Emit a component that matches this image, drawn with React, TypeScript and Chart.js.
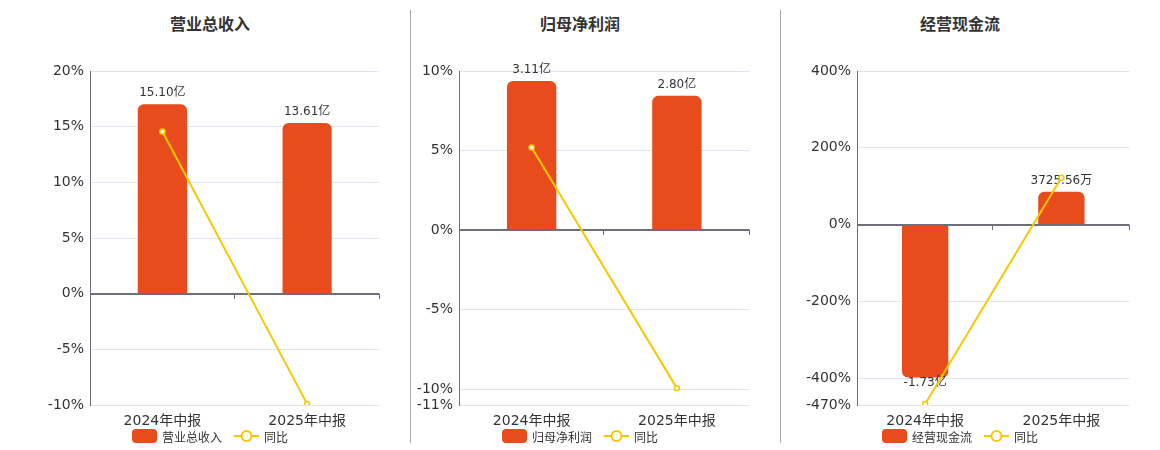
import { useEffect, useRef } from "react"
import { Chart, registerables } from "chart.js"

Chart.register(...registerables)

Chart.defaults.font.family = '"DejaVu Sans", "Noto Sans CJK SC", sans-serif'
Chart.defaults.color = "#333"

// 报告期
const categories = ["2024年中报", "2025年中报"]

// 营业总收入（亿）
const revenueValues = [15.1, 13.61]
const revenueLabels = ["15.10亿", "13.61亿"]
const revenueYoy = [14.57, -9.9]
const revenueTicks = [20, 15, 10, 5, 0, -5, -10]

// 归母净利润（亿）
const profitValues = [3.11, 2.8]
const profitLabels = ["3.11亿", "2.80亿"]
const profitYoy = [5.19, -9.94]
const profitTicks = [10, 5, 0, -5, -10, -11]

// 经营现金流（亿）
const cashValues = [-1.73, 0.372556]
const cashLabels = ["-1.73亿", "3725.56万"]
const cashYoy = [-467.5, 121.8]
const cashTicks = [400, 200, 0, -200, -400, -470]

const BAR_COLOR = "#e84c1d"
const LINE_COLOR = "#f5c800"
const AXIS_COLOR = "#6e7079"

// 零轴 + 分类刻度，画在柱子之后、折线之前
const zeroAxisPlugin = {
  id: "zeroAxis",
  afterDatasetDraw(chart: any, args: any) {
    if (args.meta.type !== "bar") return
    const { ctx, chartArea, scales } = chart
    const y0 = Math.round(scales.y.getPixelForValue(0))
    ctx.save()
    ctx.strokeStyle = AXIS_COLOR
    ctx.lineWidth = 2
    ctx.beginPath()
    ctx.moveTo(chartArea.left, y0)
    ctx.lineTo(chartArea.right, y0)
    ctx.stroke()
    const n = chart.data.labels.length
    const step = (chartArea.right - chartArea.left) / n
    ctx.lineWidth = 1
    for (let i = 1; i <= n; i++) {
      const x = Math.round(chartArea.left + i * step) - 0.5
      ctx.beginPath()
      ctx.moveTo(x, y0)
      ctx.lineTo(x, y0 + 5)
      ctx.stroke()
    }
    // 柱子数值标签
    const labels = chart.options.plugins.zeroAxis.labels as string[]
    ctx.fillStyle = "#333"
    ctx.font = '12px "DejaVu Sans", "Noto Sans CJK SC", sans-serif'
    ctx.textAlign = "center"
    ctx.textBaseline = "middle"
    args.meta.data.forEach((bar: any, i: number) => {
      const v = chart.data.datasets[args.index].data[i]
      const ty = v >= 0 ? bar.y - 11 : bar.y + 5
      ctx.fillText(labels[i], bar.x, ty)
    })
    ctx.restore()
  },
}

interface PanelProps {
  left: number
  width: number
  axisWidth: number
  title: string
  barName: string
  values: number[]
  labels: string[]
  yoy: number[]
  ticks: number[]
  barMin: number
  barMax: number
}

function Panel({ left, width, axisWidth, values, labels, yoy, ticks, barMin, barMax }: PanelProps) {
  const chartRef = useRef<HTMLCanvasElement>(null)
  const chartInstance = useRef<Chart | null>(null)

  useEffect(() => {
    if (!chartRef.current) return
    if (chartInstance.current) chartInstance.current.destroy()
    const ctx = chartRef.current.getContext("2d")
    if (!ctx) return

    chartInstance.current = new Chart(ctx, {
      type: "bar",
      data: {
        labels: categories,
        datasets: [
          {
            type: "line",
            data: yoy,
            yAxisID: "y",
            borderColor: LINE_COLOR,
            borderWidth: 2,
            pointRadius: 2.5,
            pointBorderWidth: 1.5,
            pointBackgroundColor: "#fff",
            pointBorderColor: LINE_COLOR,
            order: 0,
          },
          {
            type: "bar",
            data: values,
            yAxisID: "y2",
            backgroundColor: BAR_COLOR,
            borderRadius: 6,
            borderSkipped: "start",
            barPercentage: 0.34,
            categoryPercentage: 1,
            order: 1,
          },
        ],
      } as any,
      options: {
        responsive: false,
        animation: false,
        layout: { padding: { top: 71, right: 5, left: 0, bottom: 0 } },
        plugins: {
          legend: { display: false },
          tooltip: { enabled: false },
          zeroAxis: { labels },
        } as any,
        scales: {
          x: {
            grid: { display: false },
            border: { display: false },
            ticks: { font: { size: 14 }, color: "#333", padding: 0 },
            afterFit: (scale: any) => {
              scale.height = 45
            },
          },
          y: {
            position: "left",
            min: ticks[ticks.length - 1],
            max: ticks[0],
            afterBuildTicks: (scale: any) => {
              scale.ticks = ticks.map((v) => ({ value: v }))
            },
            afterFit: (scale: any) => {
              scale.width = axisWidth
            },
            ticks: {
              font: { size: 14 },
              color: "#333",
              padding: 6,
              callback: (v: any) => v + "%",
            },
            grid: {
              drawTicks: false,
              color: (c: any) => (c.tick && c.tick.value === 0 ? "rgba(0,0,0,0)" : "#e0e6f1"),
            },
            border: { color: AXIS_COLOR, width: 1 },
          },
          y2: {
            display: false,
            min: barMin,
            max: barMax,
          },
        },
      },
      plugins: [zeroAxisPlugin],
    })

    return () => {
      if (chartInstance.current) {
        chartInstance.current.destroy()
        chartInstance.current = null
      }
    }
  }, [])

  return (
    <canvas
      ref={chartRef}
      width={width}
      height={450}
      style={{ position: "absolute", left, top: 0, width, height: 450 }}
    />
  )
}

function Legend({ center, name }: { center: number; name: string }) {
  return (
    <div
      style={{
        position: "absolute",
        left: center - 150,
        width: 300,
        top: 428,
        height: 16,
        display: "flex",
        justifyContent: "center",
        alignItems: "center",
        fontSize: 12,
        color: "#333",
        fontFamily: '"DejaVu Sans", "Noto Sans CJK SC", sans-serif',
      }}
    >
      <span style={{ width: 25, height: 14, borderRadius: 4, background: BAR_COLOR, display: "inline-block" }} />
      <span style={{ marginLeft: 5 }}>{name}</span>
      <svg width="25" height="14" style={{ marginLeft: 12 }}>
        <line x1="0" y1="7" x2="25" y2="7" stroke={LINE_COLOR} strokeWidth="2" />
        <circle cx="12.5" cy="7" r="5" fill="#fff" stroke={LINE_COLOR} strokeWidth="2" />
      </svg>
      <span style={{ marginLeft: 5 }}>同比</span>
    </div>
  )
}

function Title({ center, text }: { center: number; text: string }) {
  return (
    <div
      style={{
        position: "absolute",
        left: center - 100,
        width: 200,
        top: 13,
        lineHeight: "20px",
        textAlign: "center",
        fontSize: 16,
        fontWeight: "bold",
        color: "#333",
        fontFamily: '"Noto Sans CJK SC", sans-serif',
      }}
    >
      {text}
    </div>
  )
}

export default function App() {
  const panels = [
    { left: 20, width: 365, axisWidth: 70, center: 210, title: "营业总收入", barName: "营业总收入", values: revenueValues, labels: revenueLabels, yoy: revenueYoy, ticks: revenueTicks, barMin: -8.88, barMax: 17.76 },
    { left: 400, width: 355, axisWidth: 59, center: 580, title: "归母净利润", barName: "归母净利润", values: profitValues, labels: profitLabels, yoy: profitYoy, ticks: profitTicks, barMin: -3.651, barMax: 3.319 },
    { left: 790, width: 345, axisWidth: 67, center: 960, title: "经营现金流", barName: "经营现金流", values: cashValues, labels: cashLabels, yoy: cashYoy, ticks: cashTicks, barMin: -2.042, barMax: 1.738 },
  ]

  return (
    <div style={{ position: "absolute", left: 0, top: 0, width: 1160, height: 450, background: "#fff" }}>
      {panels.map((p) => (
        <div key={p.title}>
          <Title center={p.center} text={p.title} />
          <Panel {...p} />
          <Legend center={p.center} name={p.barName} />
        </div>
      ))}
      <div style={{ position: "absolute", left: 410, top: 10, width: 1, height: 433, background: "#aaa" }} />
      <div style={{ position: "absolute", left: 780, top: 10, width: 1, height: 433, background: "#aaa" }} />
    </div>
  )
}
